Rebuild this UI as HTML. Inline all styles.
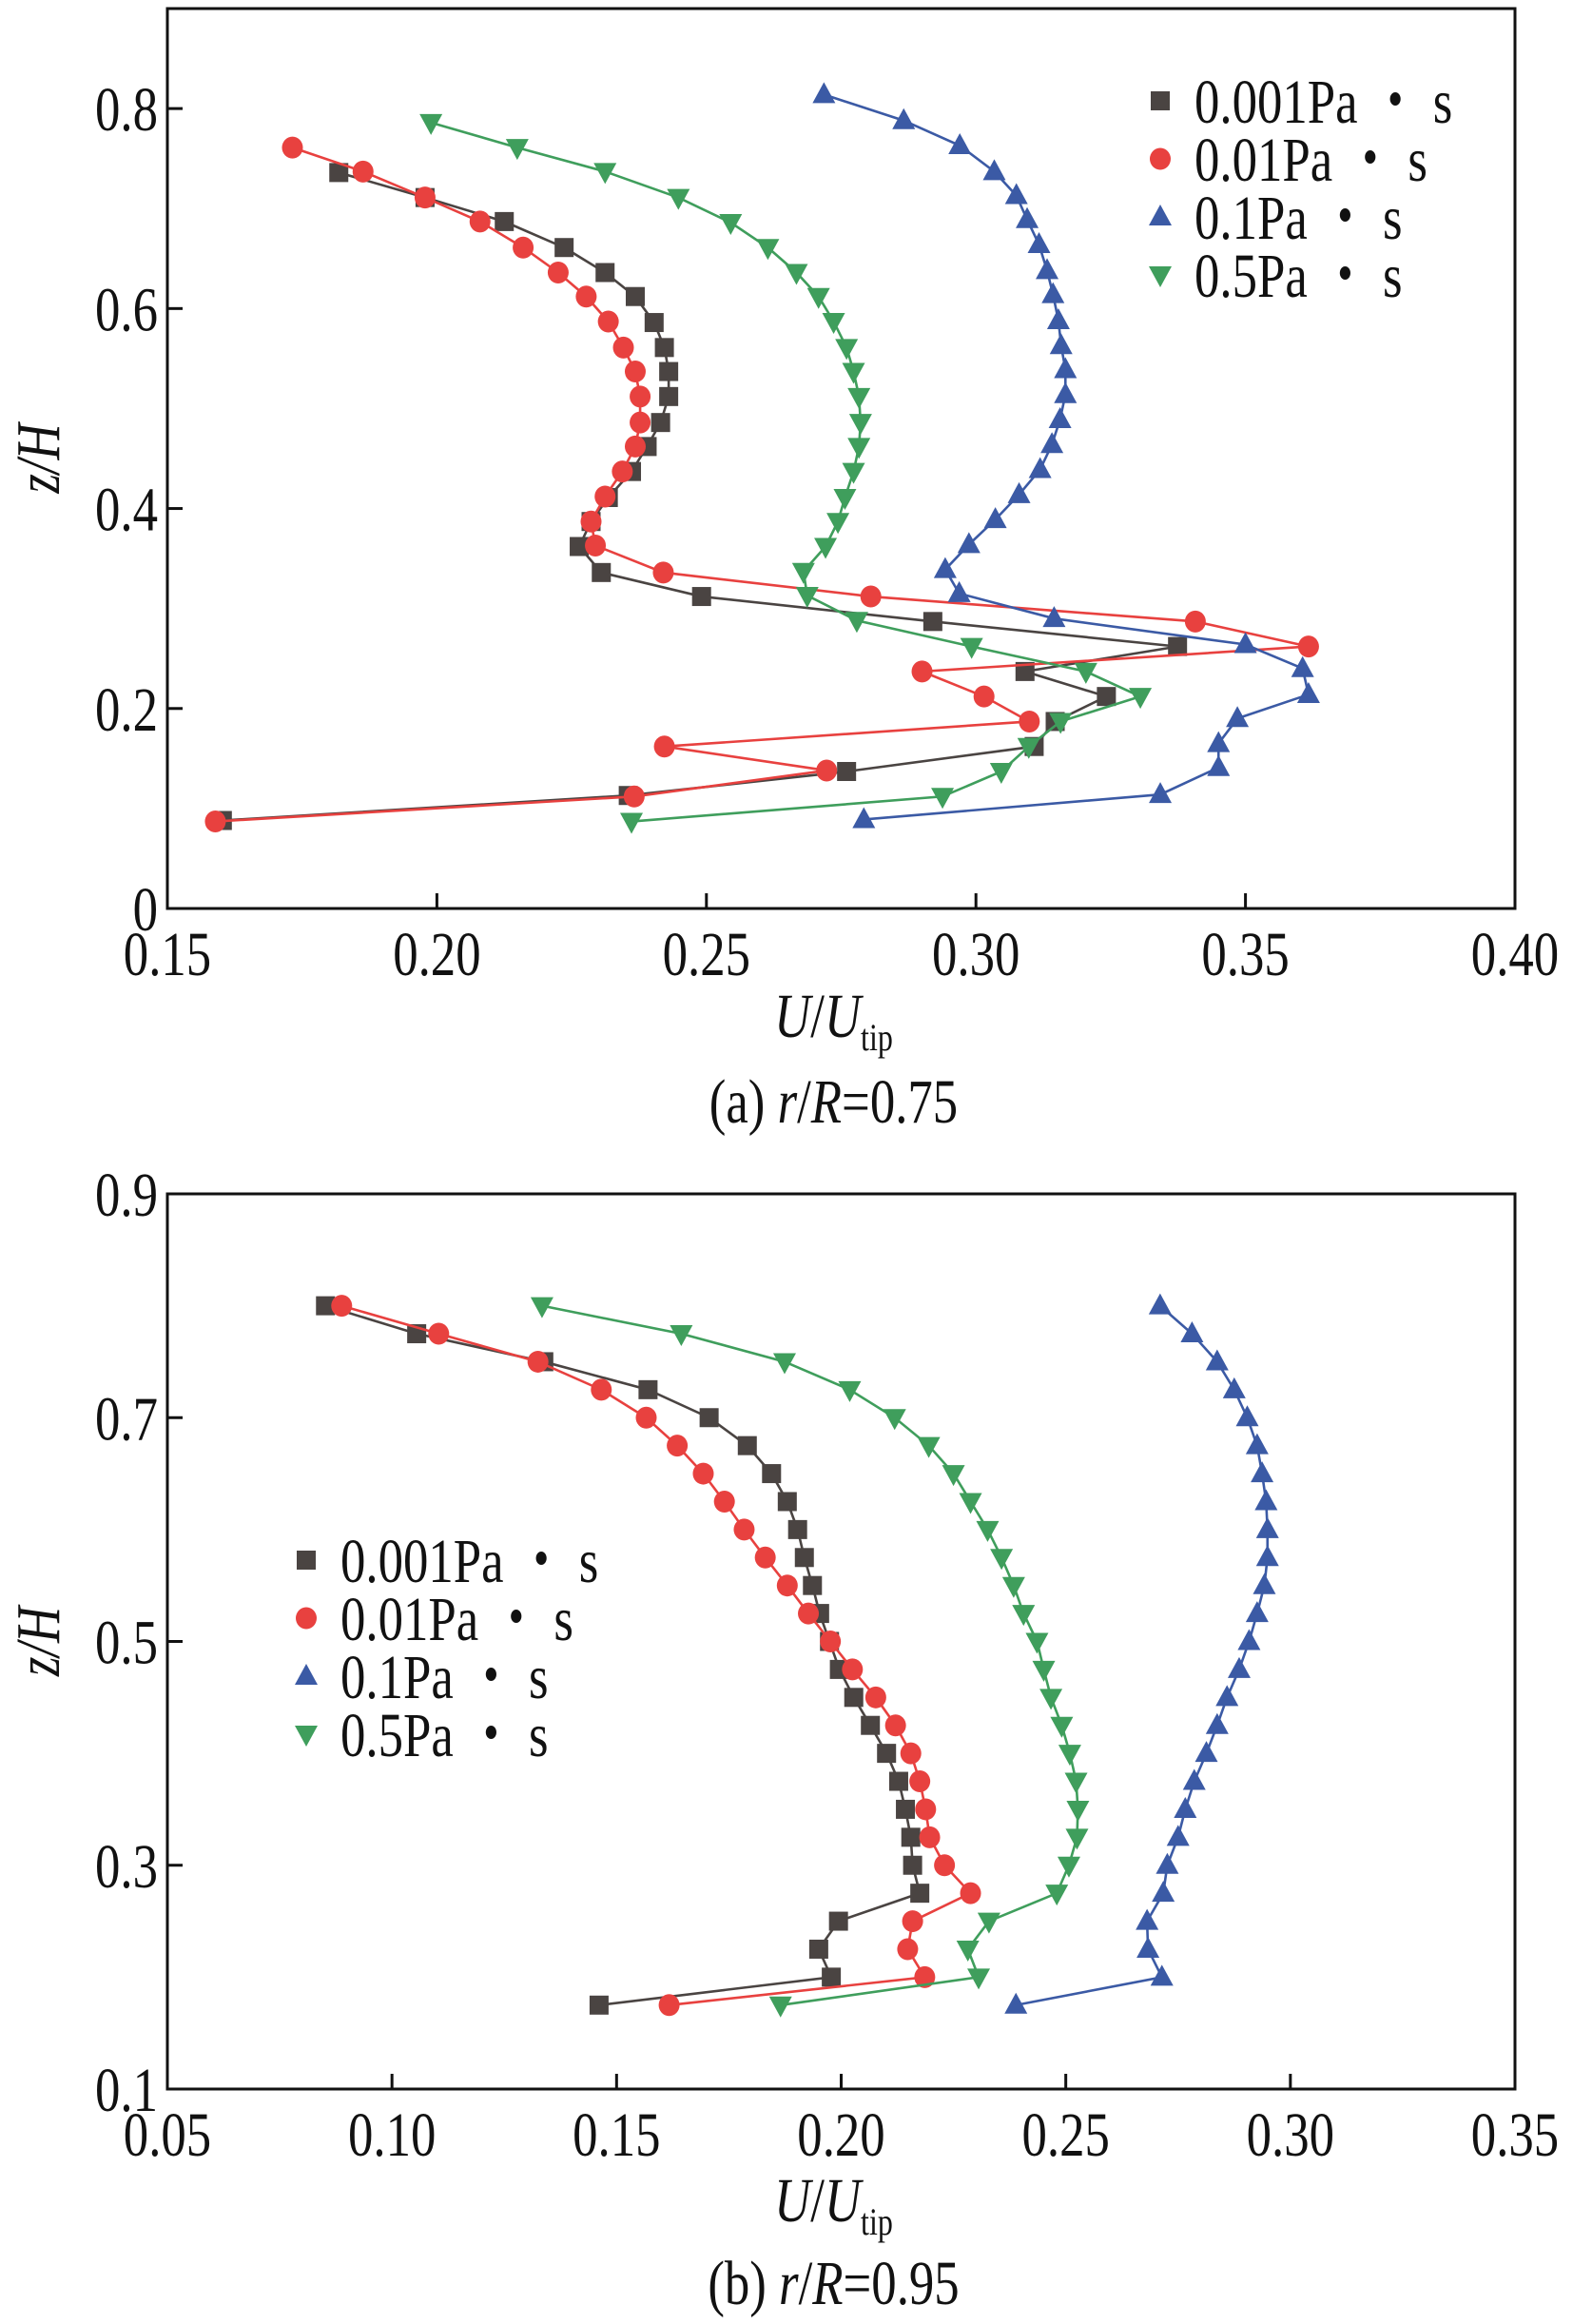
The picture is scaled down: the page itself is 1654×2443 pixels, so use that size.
<!DOCTYPE html>
<html><head><meta charset="utf-8"><style>
html,body{margin:0;padding:0;background:#fff}
svg{display:block}
text{font-family:"Liberation Serif",serif;fill:#111}
</style></head><body>
<svg id="chart" width="1654" height="2443" viewBox="0 0 1654 2443" xmlns="http://www.w3.org/2000/svg"></svg>
<script>
// ---------- data: panel (a) r/R=0.75 ----------
const zA_black = [0.736,0.711,0.687,0.661,0.636,0.612,0.586,0.561,0.537,0.512,0.486,0.462,0.437,0.411,0.387,0.362,0.336,0.312,0.287,0.262,0.237,0.212,0.187,0.162,0.137,0.113,0.088];
const uA_black = [0.1818,0.1978,0.2125,0.2236,0.2312,0.2368,0.2403,0.2422,0.2430,0.2430,0.2415,0.2390,0.2361,0.2318,0.2286,0.2264,0.2305,0.2491,0.2920,0.3374,0.3091,0.3242,0.3147,0.3108,0.2760,0.2355,0.1602];
const zA_red = [0.761,0.737,0.711,0.687,0.661,0.636,0.612,0.587,0.561,0.537,0.512,0.486,0.462,0.437,0.412,0.387,0.363,0.336,0.312,0.287,0.262,0.237,0.212,0.187,0.162,0.138,0.112,0.087];
const uA_red = [0.1732,0.1863,0.1978,0.2080,0.2160,0.2225,0.2277,0.2318,0.2346,0.2368,0.2377,0.2377,0.2368,0.2344,0.2312,0.2286,0.2294,0.2420,0.2805,0.3407,0.3617,0.2900,0.3015,0.3099,0.2422,0.2723,0.2366,0.1589];
const zA_blue = [0.814,0.788,0.763,0.737,0.713,0.689,0.664,0.638,0.614,0.588,0.563,0.539,0.514,0.489,0.464,0.439,0.414,0.389,0.364,0.339,0.315,0.290,0.264,0.240,0.214,0.190,0.165,0.141,0.114,0.089];
const uA_blue = [0.2718,0.2866,0.2970,0.3034,0.3075,0.3095,0.3117,0.3132,0.3143,0.3153,0.3158,0.3166,0.3166,0.3156,0.3141,0.3119,0.3080,0.3036,0.2987,0.2943,0.2969,0.3145,0.3500,0.3606,0.3617,0.3485,0.3450,0.3450,0.3342,0.2792];
const zA_green = [0.786,0.761,0.737,0.711,0.686,0.661,0.636,0.612,0.587,0.561,0.537,0.512,0.486,0.462,0.437,0.411,0.387,0.362,0.337,0.313,0.288,0.262,0.237,0.212,0.187,0.162,0.137,0.112,0.087];
const uA_green = [0.1989,0.2149,0.2312,0.2448,0.2545,0.2614,0.2667,0.2708,0.2736,0.2760,0.2773,0.2783,0.2786,0.2783,0.2773,0.2757,0.2744,0.2721,0.2680,0.2687,0.2779,0.2992,0.3204,0.3305,0.3157,0.3098,0.3047,0.2938,0.2361];
// ---------- data: panel (b) r/R=0.95 ----------
const zB = [0.800,0.775,0.750,0.725,0.700,0.675,0.650,0.625,0.600,0.575,0.550,0.525,0.500,0.475,0.450,0.425,0.400,0.375,0.350,0.325,0.300,0.275,0.250,0.225,0.200,0.175];
const uB_black = [0.0852,0.1055,0.1338,0.1570,0.1706,0.1791,0.1845,0.1880,0.1903,0.1918,0.1936,0.1952,0.1974,0.1996,0.2028,0.2065,0.2101,0.2128,0.2143,0.2155,0.2159,0.2175,0.1994,0.1950,0.1978,0.1461];
const uB_red = [0.0888,0.1104,0.1325,0.1466,0.1566,0.1635,0.1693,0.1740,0.1784,0.1831,0.1880,0.1927,0.1976,0.2025,0.2077,0.2121,0.2155,0.2175,0.2188,0.2197,0.2230,0.2288,0.2159,0.2148,0.2186,0.1617];
const uB_blue = [0.2710,0.2781,0.2837,0.2875,0.2904,0.2926,0.2937,0.2946,0.2949,0.2949,0.2942,0.2926,0.2908,0.2886,0.2859,0.2837,0.2813,0.2786,0.2766,0.2750,0.2726,0.2717,0.2681,0.2683,0.2714,0.2389];
const uB_green = [0.1334,0.1644,0.1874,0.2019,0.2119,0.2195,0.2250,0.2288,0.2326,0.2357,0.2384,0.2406,0.2436,0.2451,0.2467,0.2491,0.2509,0.2523,0.2527,0.2525,0.2507,0.2480,0.2329,0.2282,0.2306,0.1865];
const xTicksA = [0.15,0.20,0.25,0.30,0.35,0.40];
const xTickLabelsA = ["0.15","0.20","0.25","0.30","0.35","0.40"];
const yTicksA = [0,0.2,0.4,0.6,0.8];
const yTickLabelsA = ["0","0.2","0.4","0.6","0.8"];
const xTicksB = [0.05,0.10,0.15,0.20,0.25,0.30,0.35];
const xTickLabelsB = ["0.05","0.10","0.15","0.20","0.25","0.30","0.35"];
const yTicksB = [0.1,0.3,0.5,0.7,0.9];
const yTickLabelsB = ["0.1","0.3","0.5","0.7","0.9"];
const legendLabels = ["0.001Pa ・ s","0.01Pa ・ s","0.1Pa ・ s","0.5Pa ・ s"];

const NS="http://www.w3.org/2000/svg";
const svg=document.getElementById('chart');
const COLORS=["#4a4442","#e8413f","#3b5aa5","#3f9e5c"];
const SHAPES=["square","circle","up","down"];
const SX=0.8, FS=66;
function mk(tag,attrs,parent){const e=document.createElementNS(NS,tag);for(const k in attrs)e.setAttribute(k,attrs[k]);(parent||svg).appendChild(e);return e;}
function txt(g,x,y,anchor,html,extra){
  const t=mk('text',Object.assign({x:0,y:0,'font-size':FS,'text-anchor':anchor,transform:`translate(${x},${y}) scale(${SX},1)`},extra||{}),g);
  t.innerHTML=html;
  return t;
}
function marker(shape,x,y,color,g){
  let e;
  if(shape==="square") e=mk('rect',{x:x-10,y:y-10,width:20,height:20,fill:color},g);
  else if(shape==="circle") e=mk('ellipse',{cx:x,cy:y,rx:11,ry:11.5,fill:color},g);
  else if(shape==="up") e=mk('polygon',{points:`${x},${y-13} ${x-12},${y+9} ${x+12},${y+9}`,fill:color},g);
  else e=mk('polygon',{points:`${x},${y+13} ${x-12},${y-9} ${x+12},${y-9}`,fill:color},g);
  return e;
}
function panel(cfg){
  const {L,R,T,B,x0,x1,y0,y1}=cfg;
  const sx=v=>L+(v-x0)/(x1-x0)*(R-L);
  const sy=v=>B-(v-y0)/(y1-y0)*(B-T);
  const g=mk('g',{});
  
  
  const frame=mk('rect',{x:L,y:T,width:R-L,height:B-T,fill:'none',stroke:'#111','stroke-width':3},g);
  
  
  cfg.xt.forEach((v,i)=>{
    const t=mk('line',{x1:sx(v),x2:sx(v),y1:B,y2:B-16,stroke:'#111','stroke-width':3},g);
    
    
    const tx=txt(g,sx(v),B+70,'middle',cfg.xl[i]);
    
    
  });
  cfg.yt.forEach((v,i)=>{
    const t=mk('line',{x1:L,x2:L+16,y1:sy(v),y2:sy(v),stroke:'#111','stroke-width':3},g);
    
    
    const tx=txt(g,L-10,sy(v)+23,'end',cfg.yl[i]);
    
    
  });
  cfg.series.forEach((s,k)=>{
    const sg=mk('g',{},g);
    
    
    const pts=s.u.map((u,i)=>sx(u)+','+sy(s.z[i])).join(' ');
    mk('polyline',{points:pts,fill:'none',stroke:COLORS[k],'stroke-width':2.6},sg);
    s.u.forEach((u,i)=>{
      const m=marker(SHAPES[k],sx(u),sy(s.z[i]),COLORS[k],sg);
      
      
    });
  });
  const lg=mk('g',{},g);
  
  
  legendLabels.forEach((lab,k)=>{
    const y=cfg.legY+k*cfg.legDy;
    marker(SHAPES[k],cfg.legX,y,COLORS[k],lg);
    const t=txt(lg,cfg.legX+36,y+23,'start',lab);
    
    
  });
  const yt=mk('text',{x:0,y:0,'font-size':FS,'font-style':'italic','text-anchor':'middle',transform:`translate(${cfg.yTitleX},${(T+B)/2}) rotate(-90) scale(${SX},1)`},g);
  yt.textContent='z/H';
  
  
  const xt=txt(g,(L+R)/2-8,cfg.xTitleY,'middle','<tspan font-style="italic">U</tspan>/<tspan font-style="italic">U</tspan><tspan font-size="40" dy="14">tip</tspan>');
  
  
  const cap=txt(g,(L+R)/2-8,cfg.capY,'middle',cfg.cap);
  
  
}
panel({name:'panel-a',L:176,R:1593,T:9,B:955,x0:0.15,x1:0.40,y0:0,y1:0.9,
  xt:xTicksA,xl:xTickLabelsA,yt:yTicksA,yl:yTickLabelsA,
  series:[{id:'0.001',u:uA_black,z:zA_black},{id:'0.01',u:uA_red,z:zA_red},{id:'0.1',u:uA_blue,z:zA_blue},{id:'0.5',u:uA_green,z:zA_green}],
  legX:1220,legY:106,legDy:61,yTitleX:62,xTitleY:1090,capY:1180,
  cap:'(a) <tspan font-style="italic">r</tspan>/<tspan font-style="italic">R</tspan>=0.75'});
panel({name:'panel-b',L:176,R:1593,T:1255,B:2196,x0:0.05,x1:0.35,y0:0.1,y1:0.9,
  xt:xTicksB,xl:xTickLabelsB,yt:yTicksB,yl:yTickLabelsB,
  series:[{id:'0.001',u:uB_black,z:zB},{id:'0.01',u:uB_red,z:zB},{id:'0.1',u:uB_blue,z:zB},{id:'0.5',u:uB_green,z:zB}],
  legX:322,legY:1640,legDy:61,yTitleX:62,xTitleY:2335,capY:2422,
  cap:'(b) <tspan font-style="italic">r</tspan>/<tspan font-style="italic">R</tspan>=0.95'});
</script>
</body></html>
